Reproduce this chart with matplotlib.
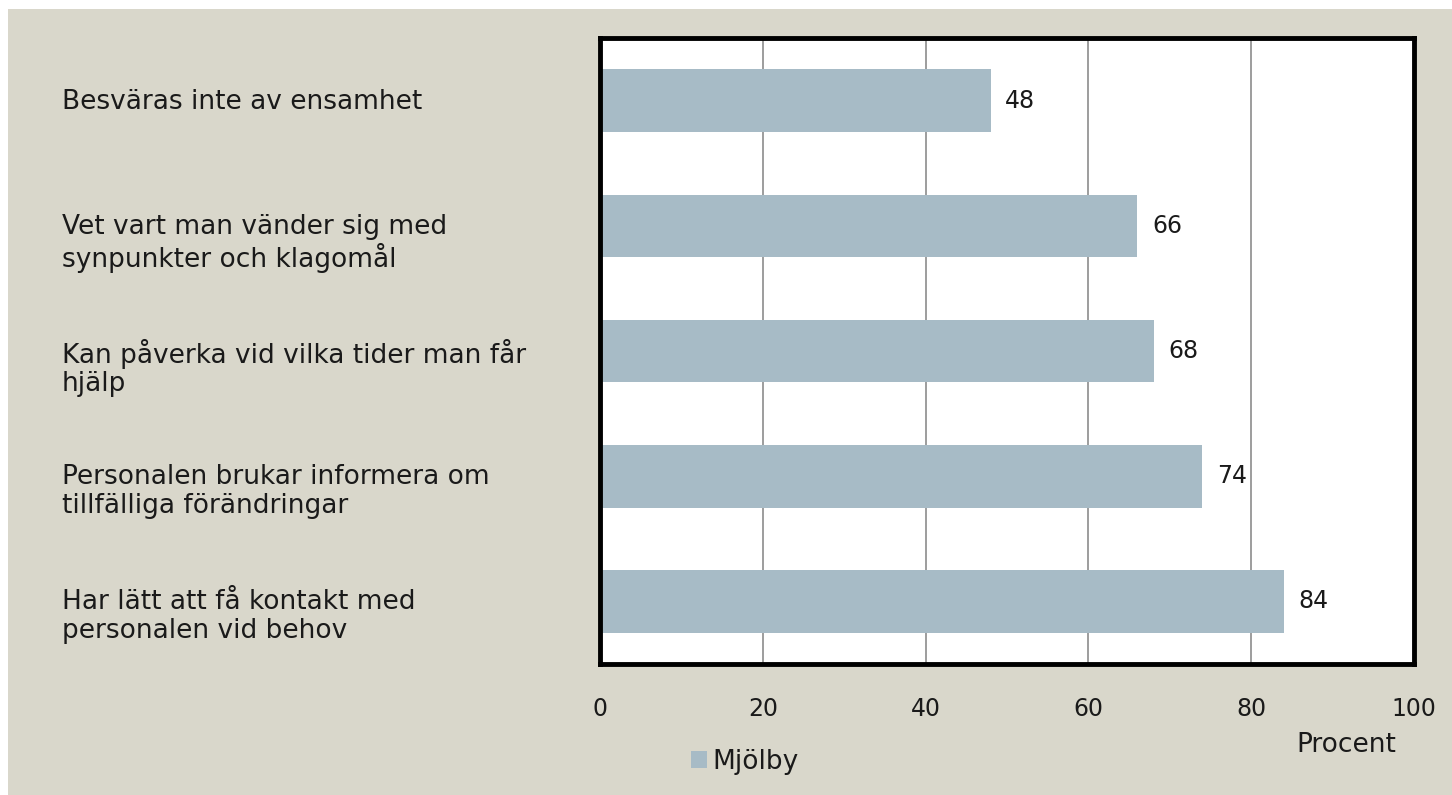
import matplotlib
matplotlib.use("Agg")
import matplotlib.pyplot as plt
from matplotlib.patches import Rectangle

categories = [
    "Besväras inte av ensamhet",
    "Vet vart man vänder sig med\nsynpunkter och klagomål",
    "Kan påverka vid vilka tider man får\nhjälp",
    "Personalen brukar informera om\ntillfälliga förändringar",
    "Har lätt att få kontakt med\npersonalen vid behov",
]
values = [48, 66, 68, 74, 84]
series_name = "Mjölby"
xticks = [0, 20, 40, 60, 80, 100]

bg = "#d9d7cb"
bar_color = "#a7bbc6"
txt = "#1a1a1a"

plt.rcParams['font.family'] = ['DejaVu Sans']

fig = plt.figure(figsize=(14.52, 7.95), dpi=100, facecolor="white")
fig.patches.append(Rectangle((8 / 1452, 0), 1, 1 - 9 / 795, transform=fig.transFigure,
                             facecolor=bg, edgecolor="none", zorder=-10))

ax = fig.add_axes([600 / 1452, 1 - 664 / 795, 814 / 1452, 626 / 795])
ypos = list(range(len(categories)))
bars = ax.barh(ypos, values, height=0.5, color=bar_color, zorder=2, label=series_name)
ax.set_xlim(0, 100)
ax.set_ylim(len(categories) - 0.5, -0.5)
ax.set_xticks(xticks)
ax.set_xticklabels([str(t) for t in xticks], fontsize=17, color=txt)
ax.tick_params(axis="x", length=0, pad=24)
ax.set_yticks([])
ax.grid(axis="x", color="#8c8c8c", linewidth=1.2, zorder=1)
for s in ax.spines.values():
    s.set_linewidth(3.5)
    s.set_color("black")

for y, v in zip(ypos, values):
    ax.text(v + 1.8, y, str(v), va="center", ha="left", fontsize=17, color=txt)

# first line of each label sits level with the bar centre
for y, c in zip(ypos, categories):
    ycen = ax.transData.transform((0, y))[1]
    fig.text(62 / 1452, (ycen + 12) / 795, c, ha="left", va="top",
             fontsize=19, color=txt, linespacing=1.12)

fig.text(1346 / 1452, 1 - 745 / 795, "Procent", ha="center", va="center", fontsize=19, color=txt)

leg = fig.legend(handles=[bars], labels=[series_name], loc="center", bbox_to_anchor=(745 / 1452, 1 - 762 / 795),
                 frameon=False, fontsize=19, handlelength=0.6, handleheight=0.6, handletextpad=0.2,
                 labelcolor=txt)

fig.savefig("out.png", dpi=100, facecolor="white")
